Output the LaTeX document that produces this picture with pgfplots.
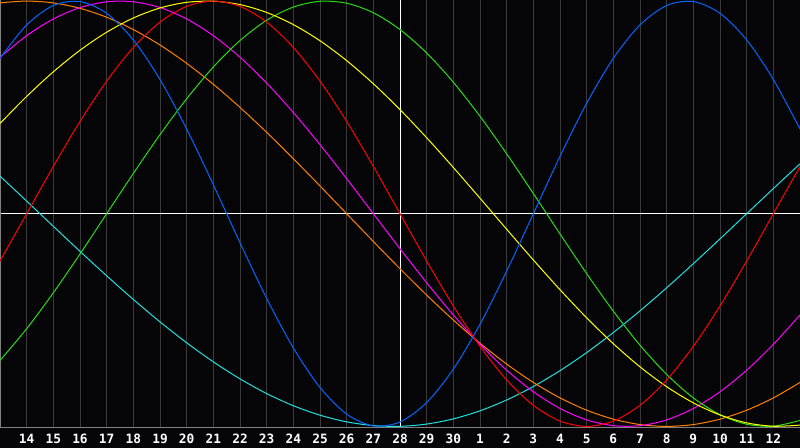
\documentclass[border=0pt]{standalone}
\usepackage{pgfplots}
\pgfplotsset{compat=1.18}
\usepackage{fontspec}
\newfontfamily\labelfont{DejaVu Sans Mono}

\definecolor{bg}{RGB}{5,5,8}
\definecolor{gridc}{RGB}{58,58,58}
\definecolor{framec}{RGB}{128,128,128}
\definecolor{cblue}{RGB}{0,102,255}
\definecolor{cred}{RGB}{255,0,0}
\definecolor{cgreen}{RGB}{40,220,20}
\definecolor{ccyan}{RGB}{32,224,224}
\definecolor{cyellow}{RGB}{255,255,0}
\definecolor{cmagenta}{RGB}{255,0,255}
\definecolor{corange}{RGB}{255,128,0}

\begin{document}
\begin{tikzpicture}
\useasboundingbox (0,-15.4pt) rectangle (600pt,320.6pt);
\fill[bg] (0,-15.4pt) rectangle (600pt,320.6pt);
\begin{axis}[
    scale only axis,
    width=600pt, height=320.6pt,
    xmin=0, xmax=30,
    ymin=-1.005, ymax=1.005,
    axis line style={draw=none},
    xtick={1,...,29},
    xticklabels={14,15,16,17,18,19,20,21,22,23,24,25,26,27,28,29,30,1,2,3,4,5,6,7,8,9,10,11,12},
    ytick=\empty,
    major tick length=0pt,
    xmajorgrids,
    major grid style={gridc, line width=0.75pt},
    xticklabel style={font=\labelfont\bfseries\fontsize{9.6}{10}\selectfont, text=white, anchor=base, yshift=-12pt, inner sep=0pt},
    every axis plot/.append style={line width=0.75pt, no markers},
    clip=true,
]
% reference lines
\addplot[white] coordinates {(0,0) (30,0)};
\addplot[white] coordinates {(15,-1.005) (15,1.005)};
\draw[framec, line width=0.75pt] (rel axis cs:1,1) -- (rel axis cs:0,1) -- (rel axis cs:0,0) -- (rel axis cs:1,0);

% cyan, period 53
\addplot[ccyan, smooth] coordinates {
(0,0.1769) (1,0.0593) (2,-0.0593) (3,-0.1769) (4,-0.2920) (5,-0.4031) (6,-0.5086) (7,-0.6068)
(8,-0.6966) (9,-0.7765) (10,-0.8457) (11,-0.9028) (12,-0.9473) (13,-0.9786) (14,-0.9960) (15,-0.9996)
(16,-0.9890) (17,-0.9646) (18,-0.9267) (19,-0.8757) (20,-0.8125) (21,-0.7379) (22,-0.6529) (23,-0.5586)
(24,-0.4566) (25,-0.3482) (26,-0.2348) (27,-0.1183) (28,0) (29,0.1183) (30,0.2348)};

% orange, period 48
\addplot[corange, smooth] coordinates {
(0,0.9914) (1,1) (2,0.9914) (3,0.9659) (4,0.9239) (5,0.8660) (6,0.7934) (7,0.7071)
(8,0.6088) (9,0.5) (10,0.3827) (11,0.2588) (12,0.1305) (13,0) (14,-0.1305) (15,-0.2588)
(16,-0.3827) (17,-0.5) (18,-0.6088) (19,-0.7071) (20,-0.7934) (21,-0.8660) (22,-0.9239) (23,-0.9659)
(24,-0.9914) (25,-1) (26,-0.9914) (27,-0.9659) (28,-0.9239) (29,-0.8660) (30,-0.7934)};

% magenta, period 38
\addplot[cmagenta, smooth] coordinates {
(0,0.7357) (1,0.8372) (2,0.9158) (3,0.9694) (4,0.9966) (5,0.9966) (6,0.9694) (7,0.9158)
(8,0.8372) (9,0.7357) (10,0.6142) (11,0.4759) (12,0.3247) (13,0.1646) (14,0) (15,-0.1646)
(16,-0.3247) (17,-0.4759) (18,-0.6142) (19,-0.7357) (20,-0.8372) (21,-0.9158) (22,-0.9694) (23,-0.9966)
(24,-0.9966) (25,-0.9694) (26,-0.9158) (27,-0.8372) (28,-0.7357) (29,-0.6142) (30,-0.4759)};

% green, period 33
\addplot[cgreen, smooth] coordinates {
(0,-0.6901) (1,-0.5406) (2,-0.3717) (3,-0.1893) (4,0) (5,0.1893) (6,0.3717) (7,0.5406)
(8,0.6901) (9,0.8146) (10,0.9096) (11,0.9718) (12,0.9989) (13,0.9898) (14,0.9450) (15,0.8660)
(16,0.7557) (17,0.6182) (18,0.4582) (19,0.2817) (20,0.0951) (21,-0.0951) (22,-0.2817) (23,-0.4582)
(24,-0.6182) (25,-0.7557) (26,-0.8660) (27,-0.9450) (28,-0.9898) (29,-0.9989) (30,-0.9718)};

% yellow, period 43
\addplot[cyellow, smooth] coordinates {
(0,0.4244) (1,0.5518) (2,0.6673) (3,0.7687) (4,0.8536) (5,0.9204) (6,0.9675) (7,0.9940)
(8,0.9993) (9,0.9834) (10,0.9464) (11,0.8893) (12,0.8133) (13,0.7200) (14,0.6112) (15,0.4895)
(16,0.3572) (17,0.2174) (18,0.0730) (19,-0.0730) (20,-0.2174) (21,-0.3572) (22,-0.4895) (23,-0.6112)
(24,-0.7200) (25,-0.8133) (26,-0.8893) (27,-0.9464) (28,-0.9834) (29,-0.9993) (30,-0.9940)};

% red, period 28
\addplot[cred, smooth] coordinates {
(0,-0.2225) (1,0) (2,0.2225) (3,0.4339) (4,0.6235) (5,0.7818) (6,0.9010) (7,0.9749)
(8,1) (9,0.9749) (10,0.9010) (11,0.7818) (12,0.6235) (13,0.4339) (14,0.2225) (15,0)
(16,-0.2225) (17,-0.4339) (18,-0.6235) (19,-0.7818) (20,-0.9010) (21,-0.9749) (22,-1) (23,-0.9749)
(24,-0.9010) (25,-0.7818) (26,-0.6235) (27,-0.4339) (28,-0.2225) (29,0) (30,0.2225)};

% blue, period 23
\addplot[cblue, smooth] coordinates {
(0,0.7308) (1,0.8879) (2,0.9791) (3,0.9977) (4,0.9423) (5,0.8170) (6,0.6311) (7,0.3984)
(8,0.1362) (9,-0.1362) (10,-0.3984) (11,-0.6311) (12,-0.8170) (13,-0.9423) (14,-0.9977) (15,-0.9791)
(16,-0.8879) (17,-0.7308) (18,-0.5196) (19,-0.2698) (20,0) (21,0.2698) (22,0.5196) (23,0.7308)
(24,0.8879) (25,0.9791) (26,0.9977) (27,0.9423) (28,0.8170) (29,0.6311) (30,0.3984)};
\end{axis}
\end{tikzpicture}
\end{document}
